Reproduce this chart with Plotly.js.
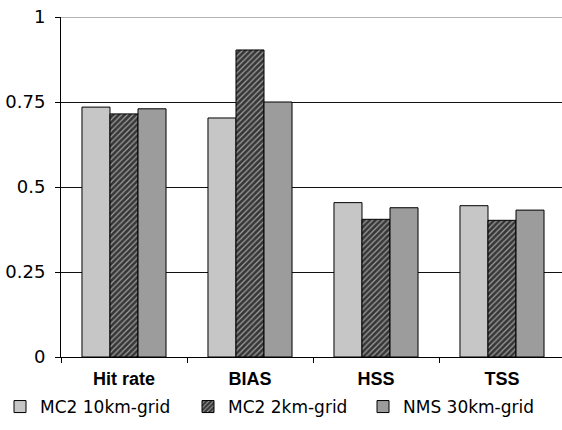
<!DOCTYPE html>
<html>
<head>
<meta charset="utf-8">
<script src="https://cdn.plot.ly/plotly-3.0.1.min.js"></script>
<style>
  html, body { margin: 0; padding: 0; background: #fff; overflow: hidden; }
  #chart { width: 562px; height: 430px; }
</style>
</head>
<body>
<div id="chart"></div>
<script>
// Verification scores for three model configurations
const categories = ['Hit rate', 'BIAS', 'HSS', 'TSS'];
const seriesNames = ['MC2 10km-grid', 'MC2 2km-grid', 'NMS 30km-grid'];
const mc2_10km = [0.735, 0.703, 0.454, 0.445];
const mc2_2km = [0.715, 0.903, 0.405, 0.402];
const nms_30km = [0.730, 0.750, 0.439, 0.432];
const yTickVals = [0, 0.25, 0.5, 0.75, 1];
const yTickText = ['0', '0.25', '0.5', '0.75', '1'];

const W = 562, H = 430;
const M = { l: 61, r: 0, t: 17, b: 73 };
const plotW = W - M.l - M.r;
const slot = 126; // pixel width of one category slot

const outline = { color: '#000', width: 1 };
const legendFont = { family: 'DejaVu Sans, sans-serif', size: 17, color: '#000' };

const traces = [
  {
    type: 'bar', name: seriesNames[0], x: categories, y: mc2_10km,
    marker: { color: '#c6c6c6', line: outline },
    legend: 'legend'
  },
  {
    type: 'bar', name: seriesNames[1], x: categories, y: mc2_2km,
    marker: {
      color: '#3a3a3a', line: outline,
      pattern: { shape: '/', bgcolor: '#363636', fgcolor: '#a0a0a0', size: 4, solidity: 0.3 }
    },
    legend: 'legend2'
  },
  {
    type: 'bar', name: seriesNames[2], x: categories, y: nms_30km,
    marker: { color: '#9c9c9c', line: outline },
    legend: 'legend3'
  }
];

// Legends are placed against the page box so they never push the plot margins
function legendAt(px) {
  return {
    xref: 'container', yref: 'container',
    x: px / W, xanchor: 'left',
    y: 1 - 407 / H, yanchor: 'middle',
    orientation: 'h', font: legendFont, bgcolor: 'rgba(0,0,0,0)',
    borderwidth: 0, itemclick: false
  };
}

const layout = {
  width: W, height: H,
  margin: M,
  paper_bgcolor: '#fff', plot_bgcolor: '#fff',
  font: { family: 'DejaVu Sans, sans-serif', color: '#000' },
  barmode: 'group',
  bargap: 0.333,
  bargroupgap: 0,
  showlegend: true,
  legend: legendAt(-18),
  legend2: legendAt(188),
  legend3: legendAt(363),
  xaxis: {
    type: 'category',
    range: [-0.5, -0.5 + plotW / slot],
    showline: true, linecolor: '#000', linewidth: 1,
    ticks: 'outside', tickson: 'boundaries', ticklen: 5, tickcolor: '#000',
    showgrid: false, zeroline: false, automargin: false,
    ticklabelstandoff: 5,
    tickfont: { family: 'Liberation Sans, Arial, sans-serif', size: 18, weight: 'bold', color: '#000' }
  },
  yaxis: {
    range: [0, 1],
    tickvals: yTickVals, ticktext: yTickText,
    showline: true, linecolor: '#000', linewidth: 1,
    ticks: 'outside', ticklen: 5, tickcolor: '#000',
    showgrid: true, gridcolor: '#111', gridwidth: 1,
    zeroline: false, automargin: false,
    ticklabelstandoff: 6,
    tickfont: { family: 'DejaVu Sans, sans-serif', size: 18, color: '#000' }
  },
  shapes: [
    { type: 'line', xref: 'paper', yref: 'y', x0: 0, x1: 1, y0: 1, y1: 1,
      line: { color: '#9a9a9a', width: 1.5 }, layer: 'below' }
  ]
};

Plotly.newPlot('chart', traces, layout, { displayModeBar: false, staticPlot: true });
</script>
</body>
</html>
